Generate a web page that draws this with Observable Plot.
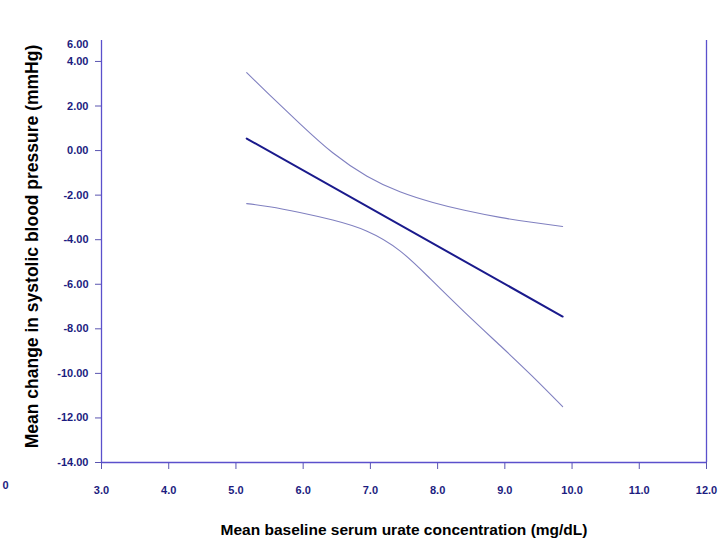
<!DOCTYPE html>
<html>
<head>
<meta charset="utf-8">
<script src="https://cdn.jsdelivr.net/npm/d3@7"></script>
<script src="https://cdn.jsdelivr.net/npm/@observablehq/plot@0.6"></script>
<style>
  html, body { margin: 0; padding: 0; background: #ffffff; }
  svg { display: block; }
</style>
</head>
<body>
<div id="chart"></div>
<script>
// Fitted mean change line
const fitX = [5.16, 9.86];
const fitY = [0.54, -7.45];

// Upper confidence band
const upperX = [5.16, 5.5, 5.95, 6.44, 6.95, 7.44, 7.93, 8.4, 8.93, 9.4, 9.86];
const upperY = [3.5, 2.5, 1.21, -0.1, -1.15, -1.85, -2.33, -2.68, -3.0, -3.22, -3.41];

// Lower confidence band
const lowerX = [5.16, 5.5, 5.95, 6.44, 6.95, 7.44, 7.89, 8.4, 8.93, 9.4, 9.86];
const lowerY = [-2.38, -2.52, -2.78, -3.12, -3.62, -4.5, -5.75, -7.25, -8.75, -10.1, -11.49];

// Tick values / labels
const xTicks = [3, 4, 5, 6, 7, 8, 9, 10, 11, 12];
const yTicks = [-14, -12, -10, -8, -6, -4, -2, 0, 2, 4];
const yTopLabel = "6.00";
const strayLabel = "0";

const xTitle = "Mean baseline serum urate concentration (mg/dL)";
const yTitle = "Mean change in systolic blood pressure (mmHg)";

const fit = fitX.map((x, i) => ({x, y: fitY[i]}));
const upper = upperX.map((x, i) => ({x, y: upperY[i]}));
const lower = lowerX.map((x, i) => ({x, y: lowerY[i]}));

const axisColor = "#5b50cc";
const tickColor = "#5a55b0";
const labelColor = "#1c1c80";
const font = "'Liberation Sans', Arial, sans-serif";

const chart = Plot.plot({
  width: 728,
  height: 547,
  marginLeft: 101,
  marginRight: 22,
  marginTop: 40,
  marginBottom: 85,
  style: {fontFamily: font, background: "#ffffff"},
  x: {domain: [3, 12]},
  y: {domain: [-14, 4.94]},
  marks: [
    Plot.axisX({
      ticks: xTicks, tickFormat: d => d.toFixed(1), tickSize: 7, tickPadding: 17,
      stroke: tickColor, fill: labelColor, fontWeight: "bold", fontSize: 11, label: null
    }),
    Plot.axisY({
      ticks: yTicks, tickFormat: d => d.toFixed(2), tickSize: 6, tickPadding: 7,
      stroke: tickColor, fill: labelColor, fontWeight: "bold", fontSize: 11, label: null
    }),
    Plot.text([yTopLabel], {
      frameAnchor: "top-left", dx: -13, dy: 0, textAnchor: "end",
      fill: labelColor, fontWeight: "bold", fontSize: 11
    }),
    Plot.text([strayLabel], {
      frameAnchor: "bottom-left", dx: -99, dy: 26, textAnchor: "start",
      fill: labelColor, fontWeight: "bold", fontSize: 11
    }),
    Plot.ruleX([3, 12], {stroke: axisColor, strokeWidth: 1.3}),
    Plot.ruleY([-14], {x1: 3, x2: 12, stroke: axisColor, strokeWidth: 1.3}),
    Plot.line(upper, {x: "x", y: "y", curve: "natural", stroke: "#8080c0", strokeWidth: 1.1}),
    Plot.line(lower, {x: "x", y: "y", curve: "natural", stroke: "#8080c0", strokeWidth: 1.1}),
    Plot.line(fit, {x: "x", y: "y", stroke: "#1a1a8c", strokeWidth: 2}),
    Plot.text([xTitle], {
      frameAnchor: "bottom", dy: 72, fill: "#000000", fontWeight: "bold", fontSize: 15.5
    }),
    Plot.text([yTitle], {
      frameAnchor: "left", textAnchor: "middle", dx: -69, dy: -5, rotate: -90,
      fill: "#000000", fontWeight: "bold", fontSize: 17.5
    })
  ]
});

document.getElementById("chart").appendChild(chart);
</script>
</body>
</html>
